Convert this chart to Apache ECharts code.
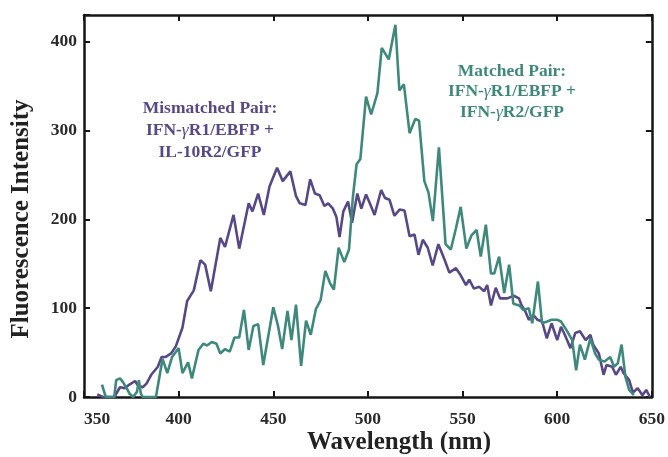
<!DOCTYPE html>
<html>
<head>
<meta charset="utf-8">
<script src="https://cdn.jsdelivr.net/npm/echarts@6/dist/echarts.min.js"></script>
<style>
  html, body { margin: 0; padding: 0; background: #fff; }
  #chart { width: 668px; height: 457px; }
</style>
</head>
<body>
<div id="chart"></div>
<script>
// 波长刻度
const xTicks = [350, 400, 450, 500, 550, 600, 650];
const yTicks = [0, 100, 200, 300, 400];

// Mismatched Pair: IFN-γR1/EBFP + IL-10R2/GFP
const mismatchedNm = [357, 360, 366, 369, 371.5, 374, 377, 378.5, 381, 383, 385.5, 389, 391, 393, 396, 398.5,
  402, 404.5, 408, 411.5, 414, 417, 422, 424.5, 429, 432, 437, 439, 442, 445, 448, 452, 455, 459, 462, 464,
  467, 469.5, 472, 474.5, 477, 479, 481.5, 483.3, 485, 487, 489.5, 491.6, 494.4, 496.5, 499, 501, 503.5, 507,
  509, 511.4, 514, 516.7, 519.3, 522, 524.6, 526.7, 529, 531.6, 534.2, 537.2, 540.4, 543, 546.5, 549, 551.8,
  553.5, 556, 558.8, 561.4, 563, 565, 567.5, 569.8, 573.7, 577, 579.8, 581, 583, 585, 587.5, 589.5, 592,
  594.5, 597, 600, 602, 604, 607, 609.5, 612, 615, 617.5, 619, 622, 624.5, 626, 629, 631, 633.5, 635, 638,
  640, 642.5, 645, 647, 649];
const mismatchedVal = [3, 0, 0, 11, 10, 14, 18, 13, 11, 15, 25, 34, 45, 45, 49, 57,
  78, 108, 120, 154, 149, 119, 179, 169, 205, 167, 218, 209, 229, 205, 237, 258, 243, 254, 226, 218,
  216, 245, 229, 227, 215, 218, 212, 203, 180, 209, 220, 196, 229, 212, 228, 218, 205, 233,
  224, 222, 204, 211, 210, 181, 183, 160, 177, 168, 148, 172, 155, 140, 145, 137, 126,
  132, 122, 124, 119, 126, 103, 123, 111, 111, 114, 111, 104, 97, 87, 92, 87, 85,
  66, 83, 64, 79, 70, 55, 72, 74, 64, 70, 59, 49, 25, 36, 34, 25, 34, 27, 19,
  5, 10, 2, 8, 0];

// Matched Pair: IFN-γR1/EBFP + IFN-γR2/GFP
const matchedNm = [359.5, 361.5, 366, 367, 369, 370.5, 372.5, 374, 376, 378, 379, 380, 381, 388, 391.5, 394,
  396.5, 400, 402, 405, 407, 410.5, 413, 415, 417.5, 420, 422, 424.5, 427, 429.5, 432, 434.5, 437, 439.5,
  442, 444.7, 450, 452.5, 454.7, 457.5, 459.6, 462, 464.7, 467.3, 469.8, 472.5, 475, 477.5, 480, 482,
  484.5, 486, 487.5, 490, 492, 494, 496, 499, 501.7, 505, 507.3, 511, 514.5, 516.6, 519, 522, 525, 527,
  529.8, 532, 534.3, 537.5, 541, 543.8, 546.5, 549, 552, 554.7, 557.4, 559.6, 562.3, 565, 566.7, 569.3,
  572, 574.6, 576.8, 580, 582, 585, 586.8, 589.8, 592, 594.7, 597, 600, 602, 605, 607.9, 610, 612, 614.6,
  617.5, 620, 622, 625, 628, 630, 632, 634, 636, 638, 640.5];
const matchedVal = [14, 0, 0, 19, 21, 17, 10, 4, 0, 6, 19, 4, 0, 0, 43, 27,
  45, 55, 27, 39, 21, 53, 60, 58, 62, 60, 49, 54, 51, 67, 67, 98, 53, 80,
  82, 36, 101, 80, 54, 97, 64, 104, 35, 86, 70, 99, 109, 142, 128, 121,
  168, 160, 152, 166, 224, 262, 268, 338, 318, 342, 393, 380, 419, 345, 352, 297, 313, 311,
  243, 230, 198, 281, 172, 166, 190, 214, 167, 182, 188, 158, 194, 139, 139, 158,
  117, 149, 105, 103, 98, 100, 83, 130, 83, 85, 87, 87, 85, 75, 64, 30, 59, 42,
  66, 49, 42, 40, 45, 34, 38, 59, 23, 8, 2];

const purple = '#574886';
const green = '#3f897c';
const serif = '"Liberation Serif", "DejaVu Serif", serif';

function pairs(xs, ys) {
  return xs.map((x, i) => [x, ys[i]]);
}

const chart = echarts.init(document.getElementById('chart'));

const axisLineStyle = { show: true, onZero: false, lineStyle: { color: '#161616', width: 2.5 } };
const tickStyle = { show: true, inside: true, length: 6, lineStyle: { color: '#161616', width: 2 } };

const option = {
  animation: false,
  backgroundColor: '#fff',
  grid: { left: 84, right: 14, top: 15, bottom: 60 },
  xAxis: [
    {
      type: 'value', position: 'bottom',
      min: xTicks[0], max: xTicks[xTicks.length - 1], interval: 50,
      axisLine: axisLineStyle, axisTick: tickStyle,
      axisLabel: {
        margin: 13, fontFamily: serif, fontWeight: 'bold', fontSize: 17.5, color: '#2a2a2a',
        alignMinLabel: 'left'
      },
      splitLine: { show: false }
    },
    {
      type: 'value', position: 'top',
      min: xTicks[0], max: xTicks[xTicks.length - 1], interval: 50,
      axisLine: axisLineStyle, axisTick: tickStyle,
      axisLabel: { show: false }, splitLine: { show: false }
    }
  ],
  yAxis: [
    {
      type: 'value', position: 'left',
      min: 0, max: 430, interval: 100,
      axisLine: axisLineStyle, axisTick: tickStyle,
      axisLabel: {
        margin: 7, fontFamily: serif, fontWeight: 'bold', fontSize: 17.5, color: '#2a2a2a',
        formatter: v => (yTicks.indexOf(v) >= 0 ? String(v) : '')
      },
      splitLine: { show: false }
    },
    {
      type: 'value', position: 'right',
      min: 0, max: 430, interval: 100,
      axisLine: axisLineStyle, axisTick: tickStyle,
      axisLabel: { show: false }, splitLine: { show: false }
    }
  ],
  series: [
    {
      name: 'Mismatched Pair', type: 'line',
      data: pairs(mismatchedNm, mismatchedVal),
      showSymbol: false, clip: true,
      lineStyle: { color: purple, width: 2.6 }
    },
    {
      name: 'Matched Pair', type: 'line',
      data: pairs(matchedNm, matchedVal),
      showSymbol: false, clip: true,
      lineStyle: { color: green, width: 2.6 }
    }
  ],
  graphic: [
    {
      type: 'text', x: 22, y: 219, rotation: Math.PI / 2,
      style: {
        text: 'Fluorescence Intensity', fill: '#222',
        font: 'bold 25px ' + serif, align: 'center', verticalAlign: 'middle'
      }
    },
    {
      type: 'text', x: 399, y: 443,
      style: {
        text: 'Wavelength (nm)', fill: '#222',
        font: 'bold 25px ' + serif, align: 'center', verticalAlign: 'middle'
      }
    },
    {
      type: 'text', x: 210, y: 97,
      style: {
        text: 'Mismatched Pair:\nIFN-{g|γ}R1/EBFP +\nIL-10R2/GFP',
        fill: purple, font: 'bold 17.5px ' + serif,
        align: 'center', verticalAlign: 'top', lineHeight: 22,
        rich: { g: { font: 'italic 17.5px ' + serif, fill: purple, lineHeight: 22 } }
      }
    },
    {
      type: 'text', x: 512, y: 61,
      style: {
        text: 'Matched Pair:\nIFN-{g|γ}R1/EBFP +\nIFN-{g|γ}R2/GFP',
        fill: green, font: 'bold 17.5px ' + serif,
        align: 'center', verticalAlign: 'top', lineHeight: 20.5,
        rich: { g: { font: 'italic 17.5px ' + serif, fill: green, lineHeight: 20.5 } }
      }
    }
  ]
};

chart.setOption(option);
</script>
</body>
</html>
